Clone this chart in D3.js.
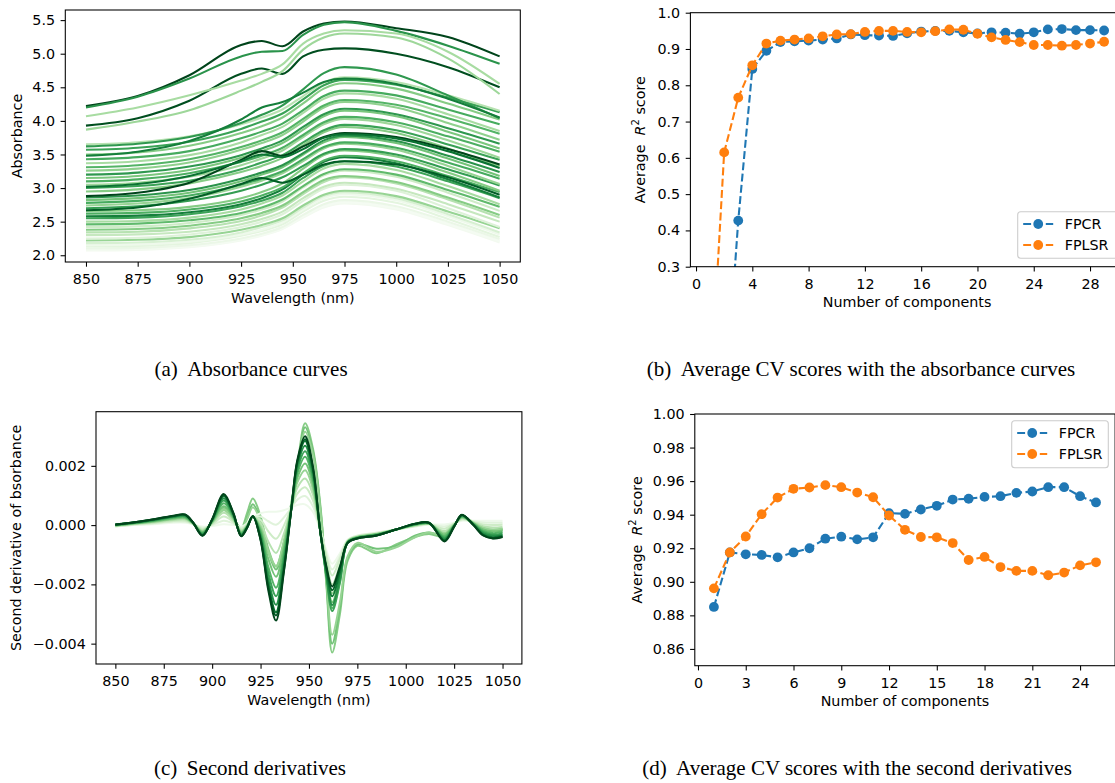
<!DOCTYPE html>
<html>
<head>
<meta charset="utf-8">
<script src="https://cdn.jsdelivr.net/npm/d3@7/dist/d3.min.js"></script>
<style>
html,body{margin:0;padding:0;background:#fff;}
svg{display:block;}
</style>
</head>
<body>
<svg id="fig" width="1115" height="783"></svg>
<script>
// ================= DATA =================
// (a) absorbance curves
const absWavelengths = [850, 875, 900, 925, 935, 945, 955, 965, 975, 1000, 1025, 1050];
const absShade = [0.03,0.02,0.08,0.12,0.06,0.18,0.40,0.15,0.25,0.30,0.45,0.22,0.55,0.35,0.65,0.80,0.60,0.45,0.68,0.40,0.62,0.50,0.72,0.45,0.66,0.38,0.60,0.48,0.70,0.42,0.58,0.35,0.62,0.45,0.66,0.30,0.70,1.0,0.92,0.85,0.80,1.0,0.72,0.97,0.35,0.38];
const absCurves = [
 [2.07,2.08,2.12,2.22,2.29,2.39,2.56,2.71,2.77,2.68,2.45,2.19],
 [2.09,2.10,2.13,2.23,2.30,2.40,2.58,2.73,2.79,2.70,2.47,2.21],
 [2.10,2.11,2.15,2.25,2.32,2.42,2.60,2.76,2.82,2.73,2.50,2.24],
 [2.13,2.14,2.18,2.29,2.36,2.46,2.65,2.81,2.87,2.78,2.54,2.27],
 [2.15,2.16,2.20,2.31,2.38,2.49,2.68,2.85,2.91,2.82,2.58,2.31],
 [2.18,2.19,2.23,2.34,2.42,2.52,2.71,2.88,2.94,2.85,2.61,2.34],
 [2.22,2.23,2.27,2.38,2.45,2.55,2.74,2.90,2.96,2.88,2.65,2.40],
 [2.25,2.26,2.31,2.42,2.50,2.61,2.81,2.99,3.05,2.96,2.70,2.42],
 [2.30,2.31,2.35,2.46,2.54,2.65,2.85,3.02,3.08,2.99,2.76,2.50],
 [2.34,2.35,2.40,2.51,2.59,2.71,2.91,3.09,3.16,3.07,2.83,2.56],
 [2.38,2.39,2.44,2.55,2.63,2.74,2.94,3.12,3.18,3.09,2.86,2.60],
 [2.42,2.43,2.48,2.60,2.68,2.80,3.01,3.19,3.26,3.17,2.93,2.66],
 [2.46,2.47,2.52,2.63,2.71,2.83,3.03,3.21,3.28,3.20,2.97,2.72],
 [2.50,2.51,2.56,2.68,2.77,2.89,3.10,3.29,3.36,3.27,3.03,2.76],
 [2.55,2.56,2.61,2.73,2.81,2.93,3.15,3.33,3.40,3.32,3.10,2.85],
 [2.58,2.59,2.64,2.76,2.85,2.98,3.20,3.39,3.46,3.37,3.13,2.86],
 [2.62,2.63,2.68,2.80,2.89,3.01,3.22,3.41,3.48,3.40,3.18,2.94],
 [2.66,2.67,2.72,2.85,2.94,3.07,3.29,3.49,3.56,3.47,3.23,2.96],
 [2.70,2.73,2.81,2.96,3.05,3.16,3.33,3.51,3.58,3.50,3.28,3.04],
 [2.74,2.77,2.85,3.02,3.11,3.22,3.40,3.59,3.66,3.57,3.33,3.06],
 [2.78,2.81,2.89,3.05,3.14,3.25,3.43,3.61,3.68,3.60,3.38,3.14],
 [2.82,2.85,2.93,3.10,3.20,3.31,3.50,3.68,3.76,3.67,3.44,3.18],
 [2.86,2.89,2.97,3.14,3.23,3.34,3.52,3.71,3.78,3.70,3.48,3.24],
 [2.95,2.98,3.07,3.24,3.33,3.45,3.64,3.83,3.91,3.82,3.59,3.33],
 [3.00,3.03,3.11,3.28,3.38,3.49,3.68,3.86,3.94,3.86,3.65,3.42],
 [3.05,3.08,3.17,3.34,3.44,3.56,3.76,3.95,4.03,3.94,3.71,3.45],
 [3.10,3.13,3.22,3.39,3.48,3.60,3.79,3.98,4.06,3.98,3.77,3.54],
 [3.15,3.18,3.27,3.45,3.55,3.67,3.87,4.07,4.15,4.07,3.84,3.59],
 [3.20,3.23,3.32,3.49,3.59,3.71,3.91,4.10,4.18,4.10,3.89,3.66],
 [3.26,3.29,3.38,3.57,3.67,3.79,3.99,4.20,4.28,4.20,3.97,3.72],
 [3.31,3.34,3.43,3.61,3.71,3.83,4.03,4.23,4.31,4.24,4.04,3.81],
 [3.37,3.40,3.49,3.68,3.79,3.91,4.12,4.33,4.41,4.33,4.10,3.85],
 [3.43,3.46,3.55,3.74,3.84,3.96,4.16,4.37,4.45,4.38,4.17,3.95],
 [3.50,3.53,3.63,3.82,3.92,4.05,4.26,4.48,4.56,4.48,4.26,4.02],
 [3.57,3.60,3.69,3.88,3.99,4.11,4.32,4.53,4.61,4.54,4.35,4.13],
 [3.65,3.68,3.77,3.95,4.05,4.17,4.37,4.57,4.65,4.58,4.38,4.15],
 [3.62,3.66,3.76,3.97,4.09,4.23,4.47,4.71,4.80,4.69,4.38,4.04],
 [2.88,2.93,3.08,3.42,3.55,3.48,3.62,3.76,3.82,3.76,3.58,3.35],
 [2.67,2.71,2.84,3.06,3.15,3.08,3.20,3.35,3.40,3.35,3.16,2.90],
 [3.02,3.06,3.18,3.40,3.50,3.46,3.58,3.75,3.80,3.74,3.55,3.30],
 [3.48,3.54,3.70,4.02,4.20,4.28,4.42,4.58,4.63,4.55,4.33,4.05],
 [4.22,4.37,4.68,5.13,5.19,5.11,5.33,5.45,5.48,5.38,5.25,4.96],
 [4.20,4.36,4.63,4.96,5.03,5.04,5.28,5.43,5.47,5.34,5.12,4.85],
 [3.93,4.04,4.30,4.70,4.78,4.70,4.96,5.06,5.08,5.00,4.80,4.50],
 [4.07,4.20,4.38,4.60,4.70,4.84,5.15,5.30,5.35,5.30,5.03,4.55],
 [3.87,3.99,4.16,4.45,4.58,4.74,5.06,5.24,5.30,5.24,4.93,4.40]
];

// (c) second derivatives, values in units of 1e-4
const d2Wavelengths = [850,860,870,880,886,890,895,900,906,911,915,918,921,925,929,933,937,941,944,948,952,956,959,962,966,970,975,985,995,1005,1012,1020,1025,1029,1035,1040,1045,1050];
const d2Unit = 1e-4;
const d2Shade = [0.45,0.50,0.40,0.06,0.14,0.22,0.30,0.40,0.50,0.58,0.66,0.74,0.84,0.92,1.0];
const d2Curves = [
 [-0.3,0.3,0.9,1.8,2.0,0.5,-1.5,0.8,5.5,2.0,-1.0,4.0,9.0,3.0,-8,-14,-6,8,20,34.4,26,6,-20,-43,-30,-12,-7,-9.5,-6.5,-4,-3,-4,0,2.5,1,-1,-2,-1.5],
 [-0.3,0.3,0.9,1.8,2.0,0.6,-1.6,0.8,5.8,2.1,-1.2,2.5,7.0,2.0,-9,-15,-6.5,7.5,19,33,25,5,-19,-40,-28,-11,-6.5,-8,-7,-3.5,-2.5,-3.5,0,2.5,0.8,-1,-2,-1.5],
 [-0.4,0.2,0.8,1.6,1.8,0.5,-1.4,0.6,5,1.8,-1.0,2.0,6.0,1.5,-9,-14,-6,7,18.5,31.5,24,4.5,-18,-37,-26,-10.5,-6,-9,-7.5,-4,-2.5,-3.5,0.2,2.4,1,-0.8,-1.8,-1.2],
 [-0.5,0,0.3,0.8,0.8,0.3,-0.5,-0.3,0.3,0,-0.5,0.5,2.5,4,4.5,4.5,5,6,6.8,7,4.5,-2,-8.5,-13,-9.5,-5,-3.5,-2.5,-1.5,-0.5,0.2,0.2,0.8,1.5,1.5,1.5,1.5,1.5],
 [-0.4,0.1,0.5,1.1,1.1,0.4,-0.9,0,1.5,0.5,-0.9,0.3,2.6,2.9,1.3,0.1,2.5,6,8.6,9.8,6.4,-2,-9.5,-15,-10.5,-5,-3.6,-2.6,-1.5,-0.4,0.3,-0.5,0.6,1.7,1.3,0.9,0.8,0.8],
 [-0.3,0.25,0.7,1.4,1.5,0.5,-1.3,0.3,2.9,1.0,-1.3,0.1,2.6,1.75,-2.1,-4.6,-0.25,6,10.6,12.75,8.4,-2.25,-10.5,-17,-11.5,-5.25,-3.75,-2.75,-1.5,-0.25,0.35,-1.2,0.5,2.0,1.1,0.25,0,0.1],
 [-0.2,0.4,0.95,1.7,1.9,0.55,-1.7,0.6,4.2,1.5,-1.75,-0.1,2.7,0.6,-5.6,-9.4,-3.0,6,12.6,15.7,10.4,-2.4,-12,-20,-13.5,-5.4,-3.9,-2.9,-1.5,-0.1,0.4,-2.0,0.3,2.3,0.9,-0.4,-0.8,-0.6],
 [-0.15,0.5,1.15,2.0,2.2,0.65,-2.05,0.85,5.4,2.0,-2.15,-0.25,2.75,-0.5,-8.75,-13.75,-5.5,6,14.4,18.5,12.25,-2.5,-14,-23,-15.5,-5.5,-4,-3,-1.5,0,0.5,-2.65,0.15,2.5,0.75,-1,-1.5,-1.25],
 [-0.1,0.6,1.3,2.25,2.5,0.7,-2.35,1.1,6.4,2.4,-2.5,-0.4,2.8,-1.4,-11.4,-17.4,-7.6,6,15.9,20.8,13.8,-2.6,-15.5,-26,-17.5,-5.6,-4.1,-3.1,-1.5,0.1,0.55,-3.2,0,2.7,0.6,-1.5,-2.1,-1.8],
 [0,0.7,1.5,2.5,2.8,0.8,-2.7,1.3,7.4,2.8,-2.8,-0.55,2.85,-2.3,-14.1,-21.1,-9.7,6,17.4,23.1,15.4,-2.7,-17,-28,-19,-5.7,-4.2,-3.2,-1.5,0.2,0.6,-3.8,-0.1,2.9,0.45,-2,-2.7,-2.35],
 [0.05,0.8,1.6,2.7,3.0,0.85,-2.9,1.5,8.3,3.1,-3.1,-0.65,2.9,-3.0,-16.2,-24,-11.4,6,18.7,24.9,16.6,-2.8,-17.5,-29,-19.5,-5.8,-4.3,-3.3,-1.5,0.3,0.65,-4.3,-0.2,3.1,0.3,-2.4,-3.2,-2.8],
 [0.1,0.85,1.75,2.9,3.2,0.9,-3.2,1.7,9.1,3.4,-3.3,-0.8,2.95,-3.7,-18.3,-26.9,-13.1,6,19.9,26.8,17.8,-2.9,-16.5,-27,-18,-5.9,-4.4,-3.4,-1.5,0.4,0.7,-4.7,-0.3,3.2,0.2,-2.8,-3.6,-3.3],
 [0.15,0.95,1.9,3.0,3.4,0.95,-3.4,1.85,9.8,3.7,-3.6,-0.9,3.0,-4.4,-20.1,-29.4,-14.5,6,21,28.4,18.9,-2.9,-15,-24,-16,-6,-4.4,-3.4,-1.5,0.45,0.75,-5.1,-0.4,3.4,0.1,-3.2,-4.1,-3.6],
 [0.2,0.95,1.95,3.1,3.5,1.0,-3.5,1.9,10.2,3.9,-3.7,-1.0,3.0,-4.8,-21,-30.5,-15.5,6,21.5,29,19.5,-3,-14.5,-22,-14.5,-6,-4.5,-3.5,-1.5,0.5,0.8,-5.3,-0.5,3.4,0,-3.4,-4.4,-3.9],
 [0.2,1.0,2.0,3.2,3.6,1.0,-3.6,2.0,10.5,4.0,-3.8,-1.0,3.0,-5,-22,-32.2,-16,6,22,30,20,-3,-14,-20.7,-14,-6,-4.5,-3.5,-1.5,0.5,0.8,-5.5,-0.5,3.5,0,-3.5,-4.5,-4.0]
];

// (b) CV scores with absorbance curves
const absComponents = [1,2,3,4,5,6,7,8,9,10,11,12,13,14,15,16,17,18,19,20,21,22,23,24,25,26,27,28,29];
const absFPCR  = [-0.30,-0.12,0.427,0.845,0.895,0.919,0.921,0.923,0.926,0.929,0.940,0.938,0.937,0.936,0.943,0.948,0.950,0.950,0.946,0.943,0.946,0.945,0.942,0.946,0.954,0.955,0.952,0.952,0.951];
const absFPLSR = [-0.07,0.615,0.766,0.855,0.915,0.923,0.926,0.929,0.935,0.940,0.941,0.947,0.950,0.950,0.947,0.946,0.949,0.954,0.953,0.942,0.932,0.925,0.919,0.911,0.911,0.909,0.911,0.915,0.920];

// (d) CV scores with second derivatives
const d2Components = [1,2,3,4,5,6,7,8,9,10,11,12,13,14,15,16,17,18,19,20,21,22,23,24,25];
const d2FPCR  = [0.885,0.9175,0.9164,0.916,0.9146,0.9175,0.920,0.9257,0.9269,0.9253,0.9265,0.9409,0.9405,0.9431,0.9453,0.949,0.9495,0.9506,0.951,0.953,0.9538,0.9564,0.9564,0.951,0.9473];
const d2FPLSR = [0.8961,0.9175,0.927,0.9403,0.9502,0.9554,0.9562,0.9576,0.9564,0.9532,0.9504,0.9395,0.931,0.9267,0.9265,0.9231,0.913,0.9148,0.9088,0.9065,0.9065,0.9039,0.9055,0.9098,0.9116];

// tick labels
const wlTicks = [850,875,900,925,950,975,1000,1025,1050];
const absYTicks = [2.0,2.5,3.0,3.5,4.0,4.5,5.0,5.5];
const d2YTicks = [-0.004,-0.002,0,0.002];
const bXTicks = [0,4,8,12,16,20,24,28];
const bYTicks = [0.3,0.4,0.5,0.6,0.7,0.8,0.9,1.0];
const dXTicks = [0,3,6,9,12,15,18,21,24];
const dYTicks = [0.86,0.88,0.90,0.92,0.94,0.96,0.98,1.00];
const seriesNames = ["FPCR","FPLSR"];
const captions = ["(a)\u00a0\u2009Absorbance curves","(b)\u00a0\u2009Average CV scores with the absorbance curves","(c)\u00a0\u2009Second derivatives","(d)\u00a0\u2009Average CV scores with the second derivatives"];

// ================= DRAWING =================
const svg = d3.select("#fig");
const FONT = "DejaVu Sans";
const FS = 14.3;
const BLUE = "#1f77b4", ORANGE = "#ff7f0e";

function padExtent(vals){
  const [lo,hi] = d3.extent(vals); const p=(hi-lo)*0.05; return [lo-p,hi+p];
}

function drawAxes(x, y, box, xt, yt, xf, yf){
  const g = svg.append("g");
  const ax = g.append("g").attr("transform",`translate(0,${box.y1})`)
    .call(d3.axisBottom(x).tickValues(xt).tickFormat(xf).tickSize(4.7).tickPadding(7.5).tickSizeOuter(0));
  const ay = g.append("g").attr("transform",`translate(${box.x0},0)`)
    .call(d3.axisLeft(y).tickValues(yt).tickFormat(yf).tickSize(4.7).tickPadding(5.5).tickSizeOuter(0));
  [ax,ay].forEach(a=>{
    a.select(".domain").remove();
    a.selectAll("text").attr("font-size",FS).attr("font-family",FONT).attr("fill","#000");
    a.selectAll("line").attr("stroke","#000").attr("stroke-width",1.07);
  });
  g.append("rect").attr("x",box.x0).attr("y",box.y0).attr("width",box.x1-box.x0).attr("height",box.y1-box.y0)
    .attr("fill","none").attr("stroke","#000").attr("stroke-width",1.07);
}

function clip(id, box){
  svg.append("clipPath").attr("id",id).append("rect")
    .attr("x",box.x0).attr("y",box.y0).attr("width",box.x1-box.x0).attr("height",box.y1-box.y0);
}

function xLabel(box, txt){
  svg.append("text").attr("x",(box.x0+box.x1)/2).attr("y",box.y1+40.5).attr("text-anchor","middle")
    .attr("font-family",FONT).attr("font-size",FS).text(txt);
}
function yLabel(xpos, box, txt){
  svg.append("text").attr("transform",`translate(${xpos},${(box.y0+box.y1)/2}) rotate(-90)`)
    .attr("text-anchor","middle").attr("font-family",FONT).attr("font-size",FS).text(txt);
}
function yLabelR2(xpos, box){
  const t = svg.append("text").attr("transform",`translate(${xpos},${(box.y0+box.y1)/2}) rotate(-90)`)
    .attr("text-anchor","middle").attr("font-family",FONT).attr("font-size",FS);
  t.append("tspan").text("Average\u00a0\u00a0");
  t.append("tspan").attr("font-style","italic").text("R");
  t.append("tspan").attr("font-size",10).attr("dy",-6).text("2");
  t.append("tspan").attr("dy",6).text("\u00a0score");
}

// ---- (a)
const boxA = {x0:65.3, x1:520.3, y0:10, y1:262};
const xA = d3.scaleLinear().domain([840,1060]).range([boxA.x0,boxA.x1]);
const yA = d3.scaleLinear().domain(padExtent(absCurves.flat())).range([boxA.y1,boxA.y0]);
clip("clipA", boxA);
const lineA = d3.line().x((d,i)=>xA(absWavelengths[i])).y(d=>yA(d)).curve(d3.curveMonotoneX);
svg.append("g").attr("clip-path","url(#clipA)").selectAll("path").data(absCurves).join("path")
  .attr("d",lineA).attr("fill","none").attr("stroke-width",2.1)
  .attr("stroke",(d,i)=>d3.interpolateGreens(absShade[i]));
drawAxes(xA,yA,boxA,wlTicks,absYTicks,d3.format("d"),d3.format(".1f"));
xLabel(boxA,"Wavelength (nm)");
yLabel(22,boxA,"Absorbance");

// ---- (c)
const boxC = {x0:96, x1:521.9, y0:411.7, y1:664};
const xC = d3.scaleLinear().domain([840,1060]).range([boxC.x0,boxC.x1]);
const yC = d3.scaleLinear().domain(padExtent(d2Curves.flat().map(v=>v*d2Unit))).range([boxC.y1,boxC.y0]);
clip("clipC", boxC);
const lineC = d3.line().x((d,i)=>xC(d2Wavelengths[i])).y(d=>yC(d*d2Unit)).curve(d3.curveCatmullRom.alpha(0.5));
svg.append("g").attr("clip-path","url(#clipC)").selectAll("path").data(d2Curves).join("path")
  .attr("d",lineC).attr("fill","none").attr("stroke-width",2.0)
  .attr("stroke",(d,i)=>d3.interpolateGreens(d2Shade[i]));
drawAxes(xC,yC,boxC,wlTicks,d2YTicks,d3.format("d"),d3.format(".3f"));
xLabel(boxC,"Wavelength (nm)");
yLabel(21,boxC,"Second derivative of bsorbance");

// ---- score panels
function scorePanel(id, box, xDom, yDom, comps, s1, s2, xt, yt, yf, legendBox){
  const x = d3.scaleLinear().domain(xDom).range([box.x0,box.x1]);
  const y = d3.scaleLinear().domain(yDom).range([box.y1,box.y0]);
  clip(id, box);
  const g = svg.append("g").attr("clip-path",`url(#${id})`);
  const line = d3.line().x((d,i)=>x(comps[i])).y(d=>y(d));
  [[s1,BLUE],[s2,ORANGE]].forEach(([s,c])=>{
    g.append("path").attr("d",line(s)).attr("fill","none").attr("stroke",c)
      .attr("stroke-width",2.1).attr("stroke-dasharray","7.9,3.4");
    g.selectAll(null).data(s).join("circle").attr("cx",(d,i)=>x(comps[i])).attr("cy",d=>y(d))
      .attr("r",4.9).attr("fill",c);
  });
  drawAxes(x,y,box,xt,yt,d3.format("d"),yf);
  xLabel(box,"Number of components");
  // legend
  const L = legendBox;
  svg.append("rect").attr("x",L.x).attr("y",L.y).attr("width",L.w).attr("height",L.h).attr("rx",3)
    .attr("fill","#fff").attr("fill-opacity",0.8).attr("stroke","#cccccc").attr("stroke-width",1.07);
  [BLUE,ORANGE].forEach((c,k)=>{
    const cy = L.y + 12.3 + k*21;
    svg.append("line").attr("x1",L.x+5.5).attr("x2",L.x+35.5).attr("y1",cy).attr("y2",cy)
      .attr("stroke",c).attr("stroke-width",2.1).attr("stroke-dasharray","7.9,3.4");
    svg.append("circle").attr("cx",L.x+20.5).attr("cy",cy).attr("r",4.9).attr("fill",c);
    svg.append("text").attr("x",L.x+47).attr("y",cy+5.2).attr("font-family",FONT).attr("font-size",FS).text(seriesNames[k]);
  });
}

const boxB = {x0:690.4, x1:1123.8, y0:12.7, y1:266.7};
scorePanel("clipB", boxB, [-0.4,30.4], [0.3,1.0], absComponents, absFPCR, absFPLSR, bXTicks, bYTicks, d3.format(".1f"),
  {x:1017.7, y:211.7, w:100, h:46.6});
yLabelR2(645, boxB);

const boxD = {x0:694.8, x1:1115.1, y0:414, y1:665.7};
scorePanel("clipD", boxD, [-0.2,26.2], [0.85,1.0], d2Components, d2FPCR, d2FPLSR, dXTicks, dYTicks, d3.format(".2f"),
  {x:1011.7, y:420.7, w:96.6, h:47});
yLabelR2(641.7, boxD);

// ---- captions
const capPos = [[251,375.5],[861,375.5],[250,774.5],[857,774.5]];
captions.forEach((c,i)=>{
  svg.append("text").attr("x",capPos[i][0]).attr("y",capPos[i][1]).attr("text-anchor","middle")
    .attr("font-family","Liberation Serif").attr("font-size",21).text(c);
});
</script>
</body>
</html>
